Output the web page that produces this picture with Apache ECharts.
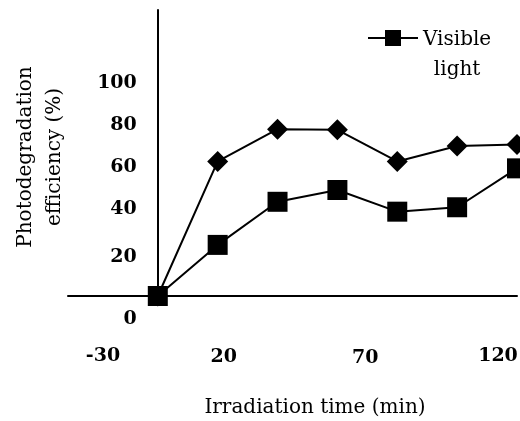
<!DOCTYPE html>
<html><head><meta charset="utf-8">
<script src="https://cdn.jsdelivr.net/npm/echarts@6/dist/echarts.min.js"></script>
<style>html,body{margin:0;padding:0;background:#fff}#c{width:520px;height:421px}</style>
</head><body><div id="c"></div>
<script>
// ---- data ----
const times = [0, 20, 40, 60, 80, 100, 120];
const visibleLight = [0, 24.3, 44.8, 50.4, 40.1, 42.2, 60.7];
const secondSeries = [0, 64, 79.3, 79, 64, 71.3, 72.1];
const xTickLabels = [-30, 20, 70, 120];
const yTickLabels = [0, 20, 40, 60, 80, 100];
const seriesNames = ['Visible light', 'Series 2'];
const axisNames = ['Irradiation time (min)', 'Photodegradation\nefficiency (%)'];

// ---- layout / label placement tweaks (style, not data) ----
const GRID = { left: 68, right: 3, top: 10, bottom: 125 };
const W = 520;
const xShift = [[35, 1], [6, 2], [-2, 4], [-19, 0]];   // [dx, extra top]
const yShift = [23, 3, -3, -3, -3, -3];                  // dy
const SERIF = '"DejaVu Serif", "Liberation Serif", serif';

function pad4(dx, dy) {
  return [dy > 0 ? dy : 0, dx < 0 ? -2 * dx : 0, dy < 0 ? -dy : 0, dx > 0 ? 2 * dx : 0];
}
const xRich = {}, yRich = {};
xTickLabels.forEach((v, i) => {
  xRich['x' + i] = { fontFamily: SERIF, fontWeight: 'bold', fontSize: 19, lineHeight: 20, color: '#000',
    padding: pad4(xShift[i][0], xShift[i][1]) };
});
yTickLabels.forEach((v, i) => {
  const d = yShift[i];
  yRich['y' + i] = { fontFamily: SERIF, fontWeight: 'bold', fontSize: 19, lineHeight: 20, color: '#000',
    padding: [d > 0 ? 2 * d : 0, 0, d < 0 ? -2 * d : 0, 0] };
});

const xMin = xTickLabels[0], xMax = xTickLabels[xTickLabels.length - 1];
const gridW = W - GRID.left - GRID.right;
// place the y axis where x = 0 (y axis crosses at zero)
const yAxisOffset = -((0 - xMin) / (xMax - xMin)) * gridW;
const yMin = 0, yMax = 136, yStep = yTickLabels[1] - yTickLabels[0];

// label formatter: axis 0 shows the non-zero ticks, axis 1 shows only the zero tick
const yFmt = zeroOnly => v => {
  const i = yTickLabels.indexOf(v);
  if (i < 0 || (v === 0) !== zeroOnly) return '';
  return '{y' + i + '|' + v + '}';
};
const baseY = {
  type: 'value', min: yMin, max: yMax, interval: yStep,
  offset: yAxisOffset,
  splitLine: { show: false },
  axisTick: { show: false }
};

const chart = echarts.init(document.getElementById('c'), null, { renderer: 'canvas' });
chart.setOption({
  animation: false,
  backgroundColor: '#fff',
  grid: Object.assign({ outerBoundsMode: 'none', containLabel: false }, GRID),
  legend: {
    data: [seriesNames[0]],
    left: 367, top: 30, padding: 0,
    itemWidth: 50, itemHeight: 20,
    formatter: () => '{a|Visible}\n{a|light}',
    textStyle: {
      padding: [34, 0, 0, 0],
      rich: { a: { fontFamily: SERIF, fontSize: 20, lineHeight: 30, color: '#000', align: 'center' } }
    }
  },
  xAxis: {
    type: 'value',
    min: xMin, max: xMax,
    interval: xTickLabels[1] - xTickLabels[0],
    splitLine: { show: false },
    axisTick: { show: false },
    axisLine: { onZero: true, lineStyle: { color: '#000', width: 2 } },
    axisLabel: {
      margin: 50, verticalAlign: 'top', hideOverlap: false, showMinLabel: true, showMaxLabel: true,
      formatter: v => { const i = xTickLabels.indexOf(v); return i < 0 ? '' : '{x' + i + '|' + v + '}'; },
      rich: xRich
    },
    name: axisNames[0], nameLocation: 'middle', nameGap: 101,
    nameTextStyle: { fontFamily: SERIF, fontSize: 20, lineHeight: 22, color: '#000', padding: [0, 0, 0, 45] }
  },
  yAxis: [
    Object.assign({}, baseY, {
      position: 'left',
      axisLine: { onZero: false, lineStyle: { color: '#000', width: 2 } },
      axisLabel: { margin: 21, showMinLabel: false, formatter: yFmt(false), rich: yRich },
      name: axisNames[1], nameLocation: 'middle', nameGap: 89,
      nameTextStyle: { fontFamily: SERIF, fontSize: 20, lineHeight: 29, color: '#000', align: 'center',
        padding: [0, 8, 0, 0] }
    }),
    Object.assign({}, baseY, {
      position: 'left',
      axisLine: { show: false, onZero: false },
      axisLabel: { margin: 21, showMinLabel: true, formatter: yFmt(true), rich: yRich }
    })
  ],
  series: [
    {
      name: seriesNames[1], type: 'line',
      data: times.map((t, i) => [t, secondSeries[i]]),
      symbol: 'diamond', symbolSize: 21,
      lineStyle: { color: '#000', width: 2 },
      itemStyle: { color: '#000' }, z: 2
    },
    {
      name: seriesNames[0], type: 'line',
      data: times.map((t, i) => [t, visibleLight[i]]),
      symbol: 'rect', symbolSize: 20,
      lineStyle: { color: '#000', width: 2 },
      itemStyle: { color: '#000' }, z: 3
    }
  ]
});
</script></body></html>
